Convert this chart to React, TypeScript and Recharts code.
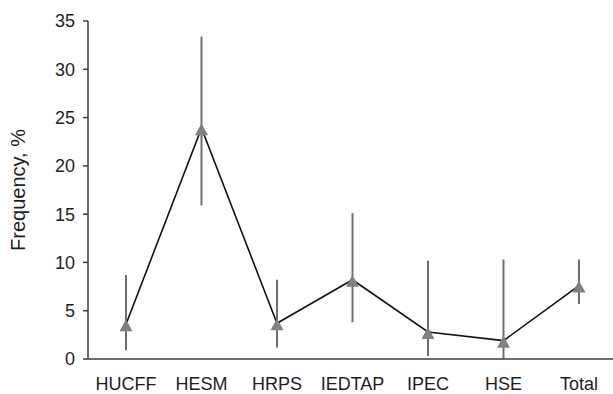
import {
  ErrorBar,
  Label,
  Line,
  LineChart,
  XAxis,
  YAxis,
} from "recharts";

const categories = ["HUCFF", "HESM", "HRPS", "IEDTAP", "IPEC", "HSE", "Total"];
const frequency = [3.6, 23.9, 3.7, 8.2, 2.8, 1.9, 7.6];
const lower = [0.9, 15.9, 1.2, 3.8, 0.3, 0, 5.7];
const upper = [8.7, 33.4, 8.2, 15.1, 10.2, 10.3, 10.3];
const yTicks = [0, 5, 10, 15, 20, 25, 30, 35];

const colors = {
  line: "#111111",
  marker: "#808080",
  whisker: "#6e6e6e",
  axis: "#3c3c3c",
  text: "#1e1e1e",
};

const font = "'Liberation Sans', Arial, sans-serif";

const chartData = categories.map((name, i) => ({
  name,
  value: frequency[i],
  err: [frequency[i] - lower[i], upper[i] - frequency[i]],
}));

const Triangle = (props: any) => {
  const { cx, cy, index } = props;
  if (cx == null || cy == null) return null;
  const h = 12;
  const w = 13;
  const top = cy - h / 2 + 1;
  return (
    <path
      key={`tri-${index}`}
      d={`M${cx},${top} L${cx + w / 2},${top + h} L${cx - w / 2},${top + h} Z`}
      fill={colors.marker}
      stroke="none"
    />
  );
};

export default function App() {
  return (
    <div
      style={{
        position: "absolute",
        left: 0,
        top: 0,
        width: 613,
        height: 394,
        overflow: "hidden",
        background: "#fff",
      }}
    >
      <LineChart
        width={620}
        height={394}
        data={chartData}
        margin={{ top: 21, right: 3, left: 0, bottom: 0 }}
      >
        <XAxis
          dataKey="name"
          tickLine={false}
          axisLine={{ stroke: colors.axis, strokeWidth: 1.5 }}
          tick={{ fontSize: 18, fill: colors.text, fontFamily: font }}
          height={35}
          tickMargin={12}
          interval={0}
          padding={{ left: 38, right: 38 }}
        />
        <YAxis
          domain={[0, 35]}
          ticks={yTicks}
          width={88}
          tickSize={5}
          tickLine={{ stroke: colors.axis, strokeWidth: 1.5 }}
          axisLine={{ stroke: colors.axis, strokeWidth: 1.5 }}
          tick={{ fontSize: 18, fill: colors.text, fontFamily: font }}
          tickMargin={8}
        >
          <Label
            content={({ viewBox }: any) => {
              const cy = viewBox.y + viewBox.height / 2;
              return (
                <text
                  x={25}
                  y={cy}
                  transform={`rotate(-90 25 ${cy})`}
                  textAnchor="middle"
                  fontSize={20}
                  fontFamily={font}
                  fill={colors.text}
                >
                  Frequency, %
                </text>
              );
            }}
          />
        </YAxis>
        <Line
          type="linear"
          dataKey="value"
          stroke={colors.line}
          strokeWidth={1.6}
          dot={<Triangle />}
          activeDot={false}
          isAnimationActive={false}
        >
          <ErrorBar
            dataKey="err"
            width={0}
            stroke={colors.whisker}
            strokeWidth={2}
            direction="y"
          />
        </Line>
      </LineChart>
    </div>
  );
}
